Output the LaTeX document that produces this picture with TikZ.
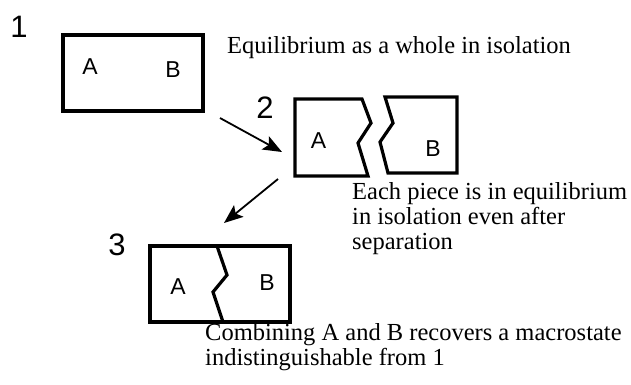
\documentclass[tikz,border=0pt]{standalone}
\usepackage{fontspec}
\setmainfont{Liberation Serif}
\newfontfamily\labfont{Liberation Sans}
\usetikzlibrary{arrows.meta}
\tikzset{
  piece/.style={line width=3.2pt, line join=miter},
  lab/.style={font=\labfont\fontsize{23}{23}\selectfont, inner sep=0pt, anchor=center},
  num/.style={font=\labfont\fontsize{31}{31}\selectfont, inner sep=0pt, anchor=center},
  note/.style={font=\fontsize{24.5}{25}\selectfont, inner sep=0pt, anchor=base west, align=left},
  flow/.style={line width=1.8pt, -{Stealth[length=19pt,width=15pt,inset=4pt]}}
}
\begin{document}
\begin{tikzpicture}[x=1pt,y=-1pt]
\useasboundingbox (0,0) rectangle (631,384);
% box 1
\draw[piece] (63,35) rectangle (203,111);
\node[lab] (a1) at (90,67) {A};
\node[lab] (b1) at (173,70) {B};
\node[num] (n1) at (19,27) {1};
% box 2
\draw[piece] (295,99) -- (362,99) -- (371,123) -- (358,143) -- (368,176) -- (295,176) -- cycle;
\draw[piece] (385,97) -- (457,97) -- (457,173) -- (388,173) -- (380,142) -- (393,123) -- cycle;
\node[lab] (a2) at (318.5,141) {A};
\node[lab] (b2) at (433,149) {B};
\node[num] (n2) at (265,108) {2};
% box 3
\draw[piece] (150,246) rectangle (290,322);
\draw[piece] (217,246) -- (227,275) -- (213,292) -- (223,322);
\node[lab] (a3) at (178,287) {A};
\node[lab] (b3) at (267,283) {B};
\node[num] (n3) at (117,245) {3};
% arrows
\coordinate (s1) at (220,118);
\coordinate (e1) at (282,152);
\coordinate (s2) at (278,179);
\coordinate (e2) at (224,223);
\draw[flow] (s1) -- (e1);
\draw[flow] (s2) -- (e2);
% texts (base anchor = baseline of last line)
\node[note] (t1) at (227,53) {Equilibrium as a whole in isolation};
\node[note] (t2) at (352,249) {Each piece is in equilibrium\\in isolation even after\\separation};
\node[note] (t3) at (205,365) {Combining A and B recovers a macrostate\\indistinguishable from 1};
\end{tikzpicture}
\end{document}
